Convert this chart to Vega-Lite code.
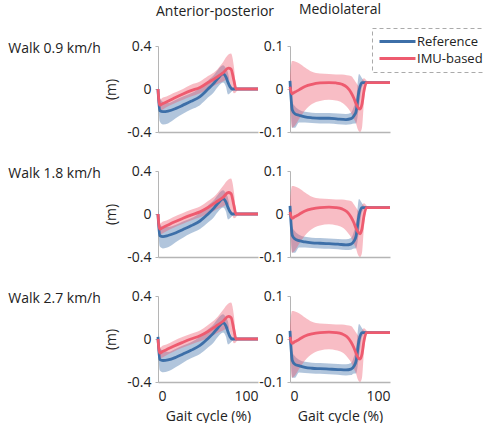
{
  "$schema": "https://vega.github.io/schema/vega-lite/v6.json",
  "padding": {"left": 8, "top": 3, "right": 0, "bottom": 0},
  "background": "white",
  "datasets": {
    "d": [
      {"r":"0.9","d":"AP","s":"Reference","x":0,"y":0.0,"lo":-0.05,"hi":0.05},
      {"r":"0.9","d":"AP","s":"Reference","x":1.7,"y":-0.2,"lo":-0.3,"hi":-0.08},
      {"r":"0.9","d":"AP","s":"Reference","x":5,"y":-0.21,"lo":-0.33,"hi":-0.12},
      {"r":"0.9","d":"AP","s":"Reference","x":10,"y":-0.205,"lo":-0.32,"hi":-0.13},
      {"r":"0.9","d":"AP","s":"Reference","x":18,"y":-0.18,"lo":-0.27,"hi":-0.1},
      {"r":"0.9","d":"AP","s":"Reference","x":25,"y":-0.15,"lo":-0.23,"hi":-0.07},
      {"r":"0.9","d":"AP","s":"Reference","x":33,"y":-0.115,"lo":-0.19,"hi":-0.04},
      {"r":"0.9","d":"AP","s":"Reference","x":42,"y":-0.07,"lo":-0.15,"hi":0.01},
      {"r":"0.9","d":"AP","s":"Reference","x":50,"y":0.0,"lo":-0.08,"hi":0.08},
      {"r":"0.9","d":"AP","s":"Reference","x":55,"y":0.045,"lo":-0.04,"hi":0.12},
      {"r":"0.9","d":"AP","s":"Reference","x":60,"y":0.1,"lo":0.02,"hi":0.18},
      {"r":"0.9","d":"AP","s":"Reference","x":65,"y":0.14,"lo":0.06,"hi":0.22},
      {"r":"0.9","d":"AP","s":"Reference","x":68,"y":0.11,"lo":0.02,"hi":0.19},
      {"r":"0.9","d":"AP","s":"Reference","x":70,"y":0.06,"lo":-0.05,"hi":0.15},
      {"r":"0.9","d":"AP","s":"Reference","x":72,"y":0.02,"lo":-0.04,"hi":0.06},
      {"r":"0.9","d":"AP","s":"Reference","x":74,"y":0.0,"lo":-0.02,"hi":0.02},
      {"r":"0.9","d":"AP","s":"Reference","x":78,"y":0.0,"lo":0.0,"hi":0.0},
      {"r":"0.9","d":"AP","s":"Reference","x":100,"y":0.0,"lo":0.0,"hi":0.0},

      {"r":"0.9","d":"AP","s":"IMU-based","x":0,"y":0.0,"lo":-0.02,"hi":0.02},
      {"r":"0.9","d":"AP","s":"IMU-based","x":1.7,"y":-0.15,"lo":-0.2,"hi":-0.1},
      {"r":"0.9","d":"AP","s":"IMU-based","x":5,"y":-0.135,"lo":-0.19,"hi":-0.08},
      {"r":"0.9","d":"AP","s":"IMU-based","x":8.4,"y":-0.12,"lo":-0.17,"hi":-0.07},
      {"r":"0.9","d":"AP","s":"IMU-based","x":15,"y":-0.09,"lo":-0.14,"hi":-0.04},
      {"r":"0.9","d":"AP","s":"IMU-based","x":25,"y":-0.046,"lo":-0.1,"hi":0.0},
      {"r":"0.9","d":"AP","s":"IMU-based","x":33,"y":-0.015,"lo":-0.07,"hi":0.04},
      {"r":"0.9","d":"AP","s":"IMU-based","x":42,"y":0.015,"lo":-0.04,"hi":0.07},
      {"r":"0.9","d":"AP","s":"IMU-based","x":50,"y":0.06,"lo":0.0,"hi":0.12},
      {"r":"0.9","d":"AP","s":"IMU-based","x":58,"y":0.105,"lo":0.04,"hi":0.17},
      {"r":"0.9","d":"AP","s":"IMU-based","x":65,"y":0.15,"lo":0.07,"hi":0.25},
      {"r":"0.9","d":"AP","s":"IMU-based","x":70.4,"y":0.195,"lo":0.09,"hi":0.32},
      {"r":"0.9","d":"AP","s":"IMU-based","x":73,"y":0.185,"lo":0.03,"hi":0.33},
      {"r":"0.9","d":"AP","s":"IMU-based","x":76,"y":0.075,"lo":-0.04,"hi":0.2},
      {"r":"0.9","d":"AP","s":"IMU-based","x":78,"y":0.0,"lo":-0.03,"hi":0.03},
      {"r":"0.9","d":"AP","s":"IMU-based","x":80,"y":0.0,"lo":0.0,"hi":0.0},
      {"r":"0.9","d":"AP","s":"IMU-based","x":100,"y":0.0,"lo":0.0,"hi":0.0},

      {"r":"0.9","d":"ML","s":"Reference","x":0,"y":0.019,"lo":0.0,"hi":0.03},
      {"r":"0.9","d":"ML","s":"Reference","x":2.3,"y":-0.049,"lo":-0.09,"hi":-0.03},
      {"r":"0.9","d":"ML","s":"Reference","x":5,"y":-0.058,"lo":-0.09,"hi":-0.04},
      {"r":"0.9","d":"ML","s":"Reference","x":9,"y":-0.061,"lo":-0.078,"hi":-0.048},
      {"r":"0.9","d":"ML","s":"Reference","x":15,"y":-0.065,"lo":-0.078,"hi":-0.053},
      {"r":"0.9","d":"ML","s":"Reference","x":22,"y":-0.067,"lo":-0.079,"hi":-0.055},
      {"r":"0.9","d":"ML","s":"Reference","x":30,"y":-0.068,"lo":-0.08,"hi":-0.056},
      {"r":"0.9","d":"ML","s":"Reference","x":39,"y":-0.068,"lo":-0.08,"hi":-0.056},
      {"r":"0.9","d":"ML","s":"Reference","x":48,"y":-0.07,"lo":-0.082,"hi":-0.057},
      {"r":"0.9","d":"ML","s":"Reference","x":56,"y":-0.071,"lo":-0.083,"hi":-0.058},
      {"r":"0.9","d":"ML","s":"Reference","x":61,"y":-0.069,"lo":-0.082,"hi":-0.055},
      {"r":"0.9","d":"ML","s":"Reference","x":64,"y":-0.062,"lo":-0.08,"hi":-0.04},
      {"r":"0.9","d":"ML","s":"Reference","x":66,"y":-0.053,"lo":-0.08,"hi":-0.025},
      {"r":"0.9","d":"ML","s":"Reference","x":69,"y":-0.004,"lo":-0.04,"hi":0.035},
      {"r":"0.9","d":"ML","s":"Reference","x":72,"y":0.015,"lo":0.005,"hi":0.025},
      {"r":"0.9","d":"ML","s":"Reference","x":75,"y":0.015,"lo":0.012,"hi":0.018},
      {"r":"0.9","d":"ML","s":"Reference","x":100,"y":0.015,"lo":0.015,"hi":0.015},

      {"r":"0.9","d":"ML","s":"IMU-based","x":0,"y":0.005,"lo":-0.02,"hi":0.03},
      {"r":"0.9","d":"ML","s":"IMU-based","x":2,"y":-0.011,"lo":-0.09,"hi":0.065},
      {"r":"0.9","d":"ML","s":"IMU-based","x":5,"y":-0.007,"lo":-0.085,"hi":0.064},
      {"r":"0.9","d":"ML","s":"IMU-based","x":9,"y":-0.002,"lo":-0.07,"hi":0.06},
      {"r":"0.9","d":"ML","s":"IMU-based","x":15,"y":0.006,"lo":-0.05,"hi":0.05},
      {"r":"0.9","d":"ML","s":"IMU-based","x":22,"y":0.011,"lo":-0.035,"hi":0.04},
      {"r":"0.9","d":"ML","s":"IMU-based","x":30,"y":0.014,"lo":-0.028,"hi":0.036},
      {"r":"0.9","d":"ML","s":"IMU-based","x":39,"y":0.015,"lo":-0.025,"hi":0.035},
      {"r":"0.9","d":"ML","s":"IMU-based","x":46,"y":0.014,"lo":-0.027,"hi":0.034},
      {"r":"0.9","d":"ML","s":"IMU-based","x":52,"y":0.011,"lo":-0.032,"hi":0.034},
      {"r":"0.9","d":"ML","s":"IMU-based","x":57,"y":0.004,"lo":-0.042,"hi":0.032},
      {"r":"0.9","d":"ML","s":"IMU-based","x":61,"y":-0.008,"lo":-0.055,"hi":0.03},
      {"r":"0.9","d":"ML","s":"IMU-based","x":64,"y":-0.022,"lo":-0.07,"hi":0.022},
      {"r":"0.9","d":"ML","s":"IMU-based","x":66,"y":-0.034,"lo":-0.08,"hi":0.015},
      {"r":"0.9","d":"ML","s":"IMU-based","x":68,"y":-0.043,"lo":-0.095,"hi":0.008},
      {"r":"0.9","d":"ML","s":"IMU-based","x":70,"y":-0.047,"lo":-0.1,"hi":0.005},
      {"r":"0.9","d":"ML","s":"IMU-based","x":72,"y":-0.035,"lo":-0.09,"hi":0.02},
      {"r":"0.9","d":"ML","s":"IMU-based","x":74,"y":-0.004,"lo":-0.03,"hi":0.025},
      {"r":"0.9","d":"ML","s":"IMU-based","x":76.5,"y":0.015,"lo":0.01,"hi":0.02},
      {"r":"0.9","d":"ML","s":"IMU-based","x":79,"y":0.015,"lo":0.015,"hi":0.015},
      {"r":"0.9","d":"ML","s":"IMU-based","x":100,"y":0.015,"lo":0.015,"hi":0.015},

      {"r":"1.8","d":"AP","s":"Reference","x":0,"y":0.0,"lo":-0.05,"hi":0.05},
      {"r":"1.8","d":"AP","s":"Reference","x":1.7,"y":-0.2,"lo":-0.3,"hi":-0.09},
      {"r":"1.8","d":"AP","s":"Reference","x":5,"y":-0.21,"lo":-0.32,"hi":-0.12},
      {"r":"1.8","d":"AP","s":"Reference","x":10,"y":-0.2,"lo":-0.31,"hi":-0.12},
      {"r":"1.8","d":"AP","s":"Reference","x":18,"y":-0.175,"lo":-0.26,"hi":-0.1},
      {"r":"1.8","d":"AP","s":"Reference","x":25,"y":-0.145,"lo":-0.22,"hi":-0.07},
      {"r":"1.8","d":"AP","s":"Reference","x":33,"y":-0.11,"lo":-0.18,"hi":-0.04},
      {"r":"1.8","d":"AP","s":"Reference","x":42,"y":-0.065,"lo":-0.14,"hi":0.01},
      {"r":"1.8","d":"AP","s":"Reference","x":50,"y":0.0,"lo":-0.08,"hi":0.08},
      {"r":"1.8","d":"AP","s":"Reference","x":55,"y":0.045,"lo":-0.04,"hi":0.12},
      {"r":"1.8","d":"AP","s":"Reference","x":60,"y":0.1,"lo":0.02,"hi":0.18},
      {"r":"1.8","d":"AP","s":"Reference","x":65,"y":0.14,"lo":0.06,"hi":0.22},
      {"r":"1.8","d":"AP","s":"Reference","x":68,"y":0.11,"lo":0.02,"hi":0.19},
      {"r":"1.8","d":"AP","s":"Reference","x":70,"y":0.06,"lo":-0.05,"hi":0.15},
      {"r":"1.8","d":"AP","s":"Reference","x":72,"y":0.02,"lo":-0.04,"hi":0.06},
      {"r":"1.8","d":"AP","s":"Reference","x":74,"y":0.0,"lo":-0.02,"hi":0.02},
      {"r":"1.8","d":"AP","s":"Reference","x":78,"y":0.0,"lo":0.0,"hi":0.0},
      {"r":"1.8","d":"AP","s":"Reference","x":100,"y":0.0,"lo":0.0,"hi":0.0},

      {"r":"1.8","d":"AP","s":"IMU-based","x":0,"y":0.0,"lo":-0.02,"hi":0.02},
      {"r":"1.8","d":"AP","s":"IMU-based","x":1.7,"y":-0.14,"lo":-0.19,"hi":-0.09},
      {"r":"1.8","d":"AP","s":"IMU-based","x":5,"y":-0.125,"lo":-0.18,"hi":-0.07},
      {"r":"1.8","d":"AP","s":"IMU-based","x":8.4,"y":-0.11,"lo":-0.16,"hi":-0.06},
      {"r":"1.8","d":"AP","s":"IMU-based","x":15,"y":-0.08,"lo":-0.13,"hi":-0.03},
      {"r":"1.8","d":"AP","s":"IMU-based","x":25,"y":-0.04,"lo":-0.09,"hi":0.01},
      {"r":"1.8","d":"AP","s":"IMU-based","x":33,"y":-0.01,"lo":-0.06,"hi":0.04},
      {"r":"1.8","d":"AP","s":"IMU-based","x":42,"y":0.02,"lo":-0.03,"hi":0.07},
      {"r":"1.8","d":"AP","s":"IMU-based","x":50,"y":0.06,"lo":0.0,"hi":0.12},
      {"r":"1.8","d":"AP","s":"IMU-based","x":58,"y":0.11,"lo":0.04,"hi":0.18},
      {"r":"1.8","d":"AP","s":"IMU-based","x":65,"y":0.155,"lo":0.07,"hi":0.26},
      {"r":"1.8","d":"AP","s":"IMU-based","x":70.4,"y":0.2,"lo":0.09,"hi":0.32},
      {"r":"1.8","d":"AP","s":"IMU-based","x":73,"y":0.19,"lo":0.03,"hi":0.33},
      {"r":"1.8","d":"AP","s":"IMU-based","x":76,"y":0.075,"lo":-0.04,"hi":0.2},
      {"r":"1.8","d":"AP","s":"IMU-based","x":78,"y":0.0,"lo":-0.03,"hi":0.03},
      {"r":"1.8","d":"AP","s":"IMU-based","x":80,"y":0.0,"lo":0.0,"hi":0.0},
      {"r":"1.8","d":"AP","s":"IMU-based","x":100,"y":0.0,"lo":0.0,"hi":0.0},

      {"r":"1.8","d":"ML","s":"Reference","x":0,"y":0.019,"lo":0.0,"hi":0.03},
      {"r":"1.8","d":"ML","s":"Reference","x":2.3,"y":-0.05,"lo":-0.09,"hi":-0.03},
      {"r":"1.8","d":"ML","s":"Reference","x":5,"y":-0.058,"lo":-0.09,"hi":-0.04},
      {"r":"1.8","d":"ML","s":"Reference","x":9,"y":-0.062,"lo":-0.078,"hi":-0.048},
      {"r":"1.8","d":"ML","s":"Reference","x":15,"y":-0.065,"lo":-0.078,"hi":-0.053},
      {"r":"1.8","d":"ML","s":"Reference","x":22,"y":-0.067,"lo":-0.079,"hi":-0.055},
      {"r":"1.8","d":"ML","s":"Reference","x":30,"y":-0.068,"lo":-0.08,"hi":-0.056},
      {"r":"1.8","d":"ML","s":"Reference","x":39,"y":-0.069,"lo":-0.081,"hi":-0.057},
      {"r":"1.8","d":"ML","s":"Reference","x":48,"y":-0.07,"lo":-0.082,"hi":-0.058},
      {"r":"1.8","d":"ML","s":"Reference","x":56,"y":-0.072,"lo":-0.084,"hi":-0.059},
      {"r":"1.8","d":"ML","s":"Reference","x":61,"y":-0.07,"lo":-0.083,"hi":-0.056},
      {"r":"1.8","d":"ML","s":"Reference","x":64,"y":-0.063,"lo":-0.08,"hi":-0.04},
      {"r":"1.8","d":"ML","s":"Reference","x":66,"y":-0.052,"lo":-0.08,"hi":-0.022},
      {"r":"1.8","d":"ML","s":"Reference","x":69,"y":-0.003,"lo":-0.04,"hi":0.035},
      {"r":"1.8","d":"ML","s":"Reference","x":72,"y":0.015,"lo":0.005,"hi":0.025},
      {"r":"1.8","d":"ML","s":"Reference","x":75,"y":0.015,"lo":0.012,"hi":0.018},
      {"r":"1.8","d":"ML","s":"Reference","x":100,"y":0.015,"lo":0.015,"hi":0.015},

      {"r":"1.8","d":"ML","s":"IMU-based","x":0,"y":0.005,"lo":-0.02,"hi":0.03},
      {"r":"1.8","d":"ML","s":"IMU-based","x":2,"y":-0.01,"lo":-0.09,"hi":0.065},
      {"r":"1.8","d":"ML","s":"IMU-based","x":5,"y":-0.006,"lo":-0.085,"hi":0.064},
      {"r":"1.8","d":"ML","s":"IMU-based","x":9,"y":-0.001,"lo":-0.07,"hi":0.06},
      {"r":"1.8","d":"ML","s":"IMU-based","x":15,"y":0.007,"lo":-0.05,"hi":0.05},
      {"r":"1.8","d":"ML","s":"IMU-based","x":22,"y":0.012,"lo":-0.035,"hi":0.04},
      {"r":"1.8","d":"ML","s":"IMU-based","x":30,"y":0.015,"lo":-0.027,"hi":0.036},
      {"r":"1.8","d":"ML","s":"IMU-based","x":39,"y":0.016,"lo":-0.024,"hi":0.035},
      {"r":"1.8","d":"ML","s":"IMU-based","x":46,"y":0.015,"lo":-0.026,"hi":0.034},
      {"r":"1.8","d":"ML","s":"IMU-based","x":52,"y":0.012,"lo":-0.031,"hi":0.034},
      {"r":"1.8","d":"ML","s":"IMU-based","x":57,"y":0.005,"lo":-0.041,"hi":0.032},
      {"r":"1.8","d":"ML","s":"IMU-based","x":61,"y":-0.007,"lo":-0.054,"hi":0.03},
      {"r":"1.8","d":"ML","s":"IMU-based","x":64,"y":-0.021,"lo":-0.07,"hi":0.022},
      {"r":"1.8","d":"ML","s":"IMU-based","x":66,"y":-0.033,"lo":-0.08,"hi":0.015},
      {"r":"1.8","d":"ML","s":"IMU-based","x":68,"y":-0.042,"lo":-0.095,"hi":0.008},
      {"r":"1.8","d":"ML","s":"IMU-based","x":70,"y":-0.046,"lo":-0.1,"hi":0.005},
      {"r":"1.8","d":"ML","s":"IMU-based","x":72,"y":-0.034,"lo":-0.09,"hi":0.02},
      {"r":"1.8","d":"ML","s":"IMU-based","x":74,"y":-0.004,"lo":-0.03,"hi":0.025},
      {"r":"1.8","d":"ML","s":"IMU-based","x":76.5,"y":0.015,"lo":0.01,"hi":0.02},
      {"r":"1.8","d":"ML","s":"IMU-based","x":79,"y":0.015,"lo":0.015,"hi":0.015},
      {"r":"1.8","d":"ML","s":"IMU-based","x":100,"y":0.015,"lo":0.015,"hi":0.015},

      {"r":"2.7","d":"AP","s":"Reference","x":0,"y":0.02,"lo":-0.05,"hi":0.06},
      {"r":"2.7","d":"AP","s":"Reference","x":1.7,"y":-0.19,"lo":-0.29,"hi":-0.08},
      {"r":"2.7","d":"AP","s":"Reference","x":5,"y":-0.2,"lo":-0.31,"hi":-0.11},
      {"r":"2.7","d":"AP","s":"Reference","x":10,"y":-0.195,"lo":-0.3,"hi":-0.12},
      {"r":"2.7","d":"AP","s":"Reference","x":18,"y":-0.17,"lo":-0.26,"hi":-0.09},
      {"r":"2.7","d":"AP","s":"Reference","x":25,"y":-0.14,"lo":-0.22,"hi":-0.06},
      {"r":"2.7","d":"AP","s":"Reference","x":33,"y":-0.105,"lo":-0.18,"hi":-0.03},
      {"r":"2.7","d":"AP","s":"Reference","x":42,"y":-0.06,"lo":-0.14,"hi":0.02},
      {"r":"2.7","d":"AP","s":"Reference","x":50,"y":0.005,"lo":-0.08,"hi":0.09},
      {"r":"2.7","d":"AP","s":"Reference","x":55,"y":0.05,"lo":-0.04,"hi":0.13},
      {"r":"2.7","d":"AP","s":"Reference","x":60,"y":0.105,"lo":0.02,"hi":0.19},
      {"r":"2.7","d":"AP","s":"Reference","x":65,"y":0.15,"lo":0.06,"hi":0.23},
      {"r":"2.7","d":"AP","s":"Reference","x":68,"y":0.12,"lo":0.02,"hi":0.2},
      {"r":"2.7","d":"AP","s":"Reference","x":70,"y":0.065,"lo":-0.05,"hi":0.16},
      {"r":"2.7","d":"AP","s":"Reference","x":72,"y":0.02,"lo":-0.04,"hi":0.06},
      {"r":"2.7","d":"AP","s":"Reference","x":74,"y":0.0,"lo":-0.02,"hi":0.02},
      {"r":"2.7","d":"AP","s":"Reference","x":78,"y":0.0,"lo":0.0,"hi":0.0},
      {"r":"2.7","d":"AP","s":"Reference","x":100,"y":0.0,"lo":0.0,"hi":0.0},

      {"r":"2.7","d":"AP","s":"IMU-based","x":0,"y":0.0,"lo":-0.02,"hi":0.02},
      {"r":"2.7","d":"AP","s":"IMU-based","x":1.7,"y":-0.13,"lo":-0.18,"hi":-0.08},
      {"r":"2.7","d":"AP","s":"IMU-based","x":5,"y":-0.115,"lo":-0.17,"hi":-0.06},
      {"r":"2.7","d":"AP","s":"IMU-based","x":8.4,"y":-0.1,"lo":-0.15,"hi":-0.05},
      {"r":"2.7","d":"AP","s":"IMU-based","x":15,"y":-0.07,"lo":-0.12,"hi":-0.02},
      {"r":"2.7","d":"AP","s":"IMU-based","x":25,"y":-0.03,"lo":-0.08,"hi":0.02},
      {"r":"2.7","d":"AP","s":"IMU-based","x":33,"y":0.0,"lo":-0.05,"hi":0.05},
      {"r":"2.7","d":"AP","s":"IMU-based","x":42,"y":0.03,"lo":-0.02,"hi":0.08},
      {"r":"2.7","d":"AP","s":"IMU-based","x":50,"y":0.07,"lo":0.01,"hi":0.13},
      {"r":"2.7","d":"AP","s":"IMU-based","x":58,"y":0.12,"lo":0.05,"hi":0.19},
      {"r":"2.7","d":"AP","s":"IMU-based","x":65,"y":0.165,"lo":0.08,"hi":0.27},
      {"r":"2.7","d":"AP","s":"IMU-based","x":70.4,"y":0.21,"lo":0.1,"hi":0.33},
      {"r":"2.7","d":"AP","s":"IMU-based","x":73,"y":0.2,"lo":0.04,"hi":0.34},
      {"r":"2.7","d":"AP","s":"IMU-based","x":76,"y":0.08,"lo":-0.04,"hi":0.21},
      {"r":"2.7","d":"AP","s":"IMU-based","x":78,"y":0.0,"lo":-0.03,"hi":0.03},
      {"r":"2.7","d":"AP","s":"IMU-based","x":80,"y":0.0,"lo":0.0,"hi":0.0},
      {"r":"2.7","d":"AP","s":"IMU-based","x":100,"y":0.0,"lo":0.0,"hi":0.0},

      {"r":"2.7","d":"ML","s":"Reference","x":0,"y":0.019,"lo":0.0,"hi":0.03},
      {"r":"2.7","d":"ML","s":"Reference","x":2.3,"y":-0.05,"lo":-0.09,"hi":-0.03},
      {"r":"2.7","d":"ML","s":"Reference","x":5,"y":-0.059,"lo":-0.09,"hi":-0.04},
      {"r":"2.7","d":"ML","s":"Reference","x":9,"y":-0.062,"lo":-0.078,"hi":-0.048},
      {"r":"2.7","d":"ML","s":"Reference","x":15,"y":-0.066,"lo":-0.079,"hi":-0.053},
      {"r":"2.7","d":"ML","s":"Reference","x":22,"y":-0.068,"lo":-0.08,"hi":-0.055},
      {"r":"2.7","d":"ML","s":"Reference","x":30,"y":-0.069,"lo":-0.081,"hi":-0.056},
      {"r":"2.7","d":"ML","s":"Reference","x":39,"y":-0.07,"lo":-0.082,"hi":-0.057},
      {"r":"2.7","d":"ML","s":"Reference","x":48,"y":-0.071,"lo":-0.083,"hi":-0.058},
      {"r":"2.7","d":"ML","s":"Reference","x":56,"y":-0.072,"lo":-0.085,"hi":-0.059},
      {"r":"2.7","d":"ML","s":"Reference","x":61,"y":-0.07,"lo":-0.084,"hi":-0.056},
      {"r":"2.7","d":"ML","s":"Reference","x":64,"y":-0.063,"lo":-0.08,"hi":-0.04},
      {"r":"2.7","d":"ML","s":"Reference","x":66,"y":-0.052,"lo":-0.08,"hi":-0.022},
      {"r":"2.7","d":"ML","s":"Reference","x":69,"y":-0.003,"lo":-0.04,"hi":0.035},
      {"r":"2.7","d":"ML","s":"Reference","x":72,"y":0.015,"lo":0.005,"hi":0.025},
      {"r":"2.7","d":"ML","s":"Reference","x":75,"y":0.015,"lo":0.012,"hi":0.018},
      {"r":"2.7","d":"ML","s":"Reference","x":100,"y":0.015,"lo":0.015,"hi":0.015},

      {"r":"2.7","d":"ML","s":"IMU-based","x":0,"y":0.005,"lo":-0.02,"hi":0.03},
      {"r":"2.7","d":"ML","s":"IMU-based","x":2,"y":-0.01,"lo":-0.09,"hi":0.065},
      {"r":"2.7","d":"ML","s":"IMU-based","x":5,"y":-0.006,"lo":-0.085,"hi":0.064},
      {"r":"2.7","d":"ML","s":"IMU-based","x":9,"y":-0.001,"lo":-0.07,"hi":0.06},
      {"r":"2.7","d":"ML","s":"IMU-based","x":15,"y":0.007,"lo":-0.05,"hi":0.05},
      {"r":"2.7","d":"ML","s":"IMU-based","x":22,"y":0.012,"lo":-0.035,"hi":0.04},
      {"r":"2.7","d":"ML","s":"IMU-based","x":30,"y":0.015,"lo":-0.027,"hi":0.036},
      {"r":"2.7","d":"ML","s":"IMU-based","x":39,"y":0.016,"lo":-0.024,"hi":0.035},
      {"r":"2.7","d":"ML","s":"IMU-based","x":46,"y":0.015,"lo":-0.026,"hi":0.034},
      {"r":"2.7","d":"ML","s":"IMU-based","x":52,"y":0.012,"lo":-0.031,"hi":0.034},
      {"r":"2.7","d":"ML","s":"IMU-based","x":57,"y":0.005,"lo":-0.041,"hi":0.032},
      {"r":"2.7","d":"ML","s":"IMU-based","x":61,"y":-0.007,"lo":-0.054,"hi":0.03},
      {"r":"2.7","d":"ML","s":"IMU-based","x":64,"y":-0.021,"lo":-0.07,"hi":0.022},
      {"r":"2.7","d":"ML","s":"IMU-based","x":66,"y":-0.033,"lo":-0.08,"hi":0.015},
      {"r":"2.7","d":"ML","s":"IMU-based","x":68,"y":-0.043,"lo":-0.095,"hi":0.008},
      {"r":"2.7","d":"ML","s":"IMU-based","x":70,"y":-0.047,"lo":-0.1,"hi":0.005},
      {"r":"2.7","d":"ML","s":"IMU-based","x":72,"y":-0.035,"lo":-0.09,"hi":0.02},
      {"r":"2.7","d":"ML","s":"IMU-based","x":74,"y":-0.004,"lo":-0.03,"hi":0.025},
      {"r":"2.7","d":"ML","s":"IMU-based","x":76.5,"y":0.015,"lo":0.01,"hi":0.02},
      {"r":"2.7","d":"ML","s":"IMU-based","x":79,"y":0.015,"lo":0.015,"hi":0.015},
      {"r":"2.7","d":"ML","s":"IMU-based","x":100,"y":0.015,"lo":0.015,"hi":0.015}
    ]
  },
  "config": {
    "view": {"stroke": null},
    "font": "Open Sans",
    "axis": {"grid": false, "domainColor": "#b5b5b5", "tickColor": "#b5b5b5", "tickSize": 3, "labelFont": "Open Sans", "labelFontSize": 14, "labelColor": "#222222", "titleFont": "Open Sans", "titleFontSize": 14, "titleFontWeight": "normal", "titleColor": "#222222"},
    "title": {"font": "Open Sans", "fontSize": 14, "fontWeight": "normal", "color": "#222222"},
    "legend": {"strokeColor": "#aaaaaa", "strokeDash": [4, 3], "padding": 6, "labelFont": "Open Sans", "labelFontSize": 13, "labelColor": "#222222", "symbolStrokeWidth": 3, "rowPadding": 2}
  },
  "resolve": {"legend": {"color": "independent"}},
  "spacing": 25,
  "vconcat": [
    {
      "bounds": "flush", "spacing": 32,
      "resolve": {"legend": {"color": "independent"}},
      "title": {"text": "Walk 0.9 km/h", "orient": "left", "angle": 0, "anchor": "end", "align": "left", "baseline": "middle", "frame": "group", "offset": 4, "dy": 3},
      "hconcat": [
        {
          "width": 100, "height": 86,
          "title": {"text": "Anterior-posterior", "frame": "group", "offset": 20.5, "dx": 7},
          "data": {"name": "d"},
          "transform": [{"filter": "datum.r == '0.9' && datum.d == 'AP'"}],
          "encoding": {"x": {"field": "x", "type": "quantitative", "scale": {"domain": [0, 100], "nice": false}, "axis": {"labels": false, "ticks": false, "title": null, "domainWidth": 1.5}}},
          "layer": [
            {"mark": {"type": "area", "opacity": 0.4, "interpolate": "monotone"},
             "encoding": {"y": {"field": "lo", "type": "quantitative", "scale": {"domain": [-0.4, 0.4]}, "axis": {"values": [-0.4, -0.2, 0, 0.2, 0.4], "labelExpr": "datum.value == 0.4 ? '0.4' : datum.value == -0.4 ? '-0.4' : datum.value == 0 ? '0' : ''", "title": "(m)", "titlePadding": 8, "labelPadding": 4}},
              "y2": {"field": "hi"},
              "fill": {"field": "s", "type": "nominal", "scale": {"domain": ["Reference", "IMU-based"], "range": ["#3d6fa8", "#ee5b6f"]}, "legend": null}}},
            {"mark": {"type": "line", "strokeWidth": 2.8, "interpolate": "monotone"},
             "encoding": {"y": {"field": "y", "type": "quantitative"},
              "color": {"field": "s", "type": "nominal", "scale": {"domain": ["Reference", "IMU-based"], "range": ["#3d6fa8", "#ee5b6f"]}, "legend": null}}}
          ]
        },
        {
          "width": 100, "height": 86,
          "title": {"text": "Mediolateral", "frame": "group", "offset": 10.5},
          "data": {"name": "d"},
          "transform": [{"filter": "datum.r == '0.9' && datum.d == 'ML'"}],
          "encoding": {"x": {"field": "x", "type": "quantitative", "scale": {"domain": [0, 100], "nice": false}, "axis": {"labels": false, "ticks": false, "title": null, "domainWidth": 1.5}}},
          "layer": [
            {"mark": {"type": "area", "opacity": 0.4, "interpolate": "monotone"},
             "encoding": {"y": {"field": "lo", "type": "quantitative", "scale": {"domain": [-0.1, 0.1]}, "axis": {"values": [-0.1, -0.05, 0, 0.05, 0.1], "labelExpr": "datum.value == 0.1 ? '0.1' : datum.value == -0.1 ? '-0.1' : datum.value == 0 ? '0' : ''", "title": null, "labelPadding": 4}},
              "y2": {"field": "hi"},
              "fill": {"field": "s", "type": "nominal", "scale": {"domain": ["Reference", "IMU-based"], "range": ["#3d6fa8", "#ee5b6f"]}, "legend": null}}},
            {"mark": {"type": "line", "strokeWidth": 2.8, "interpolate": "monotone"},
             "encoding": {"y": {"field": "y", "type": "quantitative"},
              "color": {"field": "s", "type": "nominal", "scale": {"domain": ["Reference", "IMU-based"], "range": ["#3d6fa8", "#ee5b6f"]}, "legend": {"title": null, "orient": "none", "legendX": 82, "legendY": -18, "symbolType": "M-1,0H5", "symbolSize": 144, "labelOffset": 24}}}}
          ]
        }
      ]
    },
    {
      "bounds": "flush", "spacing": 32,
      "title": {"text": "Walk 1.8 km/h", "orient": "left", "angle": 0, "anchor": "end", "align": "left", "baseline": "middle", "frame": "group", "offset": 4, "dy": 3},
      "hconcat": [
        {
          "width": 100, "height": 86,
          "data": {"name": "d"},
          "transform": [{"filter": "datum.r == '1.8' && datum.d == 'AP'"}],
          "encoding": {"x": {"field": "x", "type": "quantitative", "scale": {"domain": [0, 100], "nice": false}, "axis": {"labels": false, "ticks": false, "title": null, "domainWidth": 1.5}}},
          "layer": [
            {"mark": {"type": "area", "opacity": 0.4, "interpolate": "monotone"},
             "encoding": {"y": {"field": "lo", "type": "quantitative", "scale": {"domain": [-0.4, 0.4]}, "axis": {"values": [-0.4, -0.2, 0, 0.2, 0.4], "labelExpr": "datum.value == 0.4 ? '0.4' : datum.value == -0.4 ? '-0.4' : datum.value == 0 ? '0' : ''", "title": "(m)", "titlePadding": 8, "labelPadding": 4}},
              "y2": {"field": "hi"},
              "fill": {"field": "s", "type": "nominal", "scale": {"domain": ["Reference", "IMU-based"], "range": ["#3d6fa8", "#ee5b6f"]}, "legend": null}}},
            {"mark": {"type": "line", "strokeWidth": 2.8, "interpolate": "monotone"},
             "encoding": {"y": {"field": "y", "type": "quantitative"},
              "color": {"field": "s", "type": "nominal", "scale": {"domain": ["Reference", "IMU-based"], "range": ["#3d6fa8", "#ee5b6f"]}, "legend": null}}}
          ]
        },
        {
          "width": 100, "height": 86,
          "data": {"name": "d"},
          "transform": [{"filter": "datum.r == '1.8' && datum.d == 'ML'"}],
          "encoding": {"x": {"field": "x", "type": "quantitative", "scale": {"domain": [0, 100], "nice": false}, "axis": {"labels": false, "ticks": false, "title": null, "domainWidth": 1.5}}},
          "layer": [
            {"mark": {"type": "area", "opacity": 0.4, "interpolate": "monotone"},
             "encoding": {"y": {"field": "lo", "type": "quantitative", "scale": {"domain": [-0.1, 0.1]}, "axis": {"values": [-0.1, -0.05, 0, 0.05, 0.1], "labelExpr": "datum.value == 0.1 ? '0.1' : datum.value == -0.1 ? '-0.1' : datum.value == 0 ? '0' : ''", "title": null, "labelPadding": 4}},
              "y2": {"field": "hi"},
              "fill": {"field": "s", "type": "nominal", "scale": {"domain": ["Reference", "IMU-based"], "range": ["#3d6fa8", "#ee5b6f"]}, "legend": null}}},
            {"mark": {"type": "line", "strokeWidth": 2.8, "interpolate": "monotone"},
             "encoding": {"y": {"field": "y", "type": "quantitative"},
              "color": {"field": "s", "type": "nominal", "scale": {"domain": ["Reference", "IMU-based"], "range": ["#3d6fa8", "#ee5b6f"]}, "legend": null}}}
          ]
        }
      ]
    },
    {
      "bounds": "flush", "spacing": 32,
      "title": {"text": "Walk 2.7 km/h", "orient": "left", "angle": 0, "anchor": "end", "align": "left", "baseline": "middle", "frame": "group", "offset": 4, "dy": 3},
      "hconcat": [
        {
          "width": 100, "height": 86,
          "data": {"name": "d"},
          "transform": [{"filter": "datum.r == '2.7' && datum.d == 'AP'"}],
          "encoding": {"x": {"field": "x", "type": "quantitative", "scale": {"domain": [0, 100], "nice": false}, "axis": {"values": [0, 100], "ticks": false, "title": "Gait cycle (%)", "labelPadding": 7, "titlePadding": 6, "domainWidth": 1.5}}},
          "layer": [
            {"mark": {"type": "area", "opacity": 0.4, "interpolate": "monotone"},
             "encoding": {"y": {"field": "lo", "type": "quantitative", "scale": {"domain": [-0.4, 0.4]}, "axis": {"values": [-0.4, -0.2, 0, 0.2, 0.4], "labelExpr": "datum.value == 0.4 ? '0.4' : datum.value == -0.4 ? '-0.4' : datum.value == 0 ? '0' : ''", "title": "(m)", "titlePadding": 8, "labelPadding": 4}},
              "y2": {"field": "hi"},
              "fill": {"field": "s", "type": "nominal", "scale": {"domain": ["Reference", "IMU-based"], "range": ["#3d6fa8", "#ee5b6f"]}, "legend": null}}},
            {"mark": {"type": "line", "strokeWidth": 2.8, "interpolate": "monotone"},
             "encoding": {"y": {"field": "y", "type": "quantitative"},
              "color": {"field": "s", "type": "nominal", "scale": {"domain": ["Reference", "IMU-based"], "range": ["#3d6fa8", "#ee5b6f"]}, "legend": null}}}
          ]
        },
        {
          "width": 100, "height": 86,
          "data": {"name": "d"},
          "transform": [{"filter": "datum.r == '2.7' && datum.d == 'ML'"}],
          "encoding": {"x": {"field": "x", "type": "quantitative", "scale": {"domain": [0, 100], "nice": false}, "axis": {"values": [0, 100], "ticks": false, "title": "Gait cycle (%)", "labelPadding": 7, "titlePadding": 6, "domainWidth": 1.5}}},
          "layer": [
            {"mark": {"type": "area", "opacity": 0.4, "interpolate": "monotone"},
             "encoding": {"y": {"field": "lo", "type": "quantitative", "scale": {"domain": [-0.1, 0.1]}, "axis": {"values": [-0.1, -0.05, 0, 0.05, 0.1], "labelExpr": "datum.value == 0.1 ? '0.1' : datum.value == -0.1 ? '-0.1' : datum.value == 0 ? '0' : ''", "title": null, "labelPadding": 4}},
              "y2": {"field": "hi"},
              "fill": {"field": "s", "type": "nominal", "scale": {"domain": ["Reference", "IMU-based"], "range": ["#3d6fa8", "#ee5b6f"]}, "legend": null}}},
            {"mark": {"type": "line", "strokeWidth": 2.8, "interpolate": "monotone"},
             "encoding": {"y": {"field": "y", "type": "quantitative"},
              "color": {"field": "s", "type": "nominal", "scale": {"domain": ["Reference", "IMU-based"], "range": ["#3d6fa8", "#ee5b6f"]}, "legend": null}}}
          ]
        }
      ]
    }
  ]
}
